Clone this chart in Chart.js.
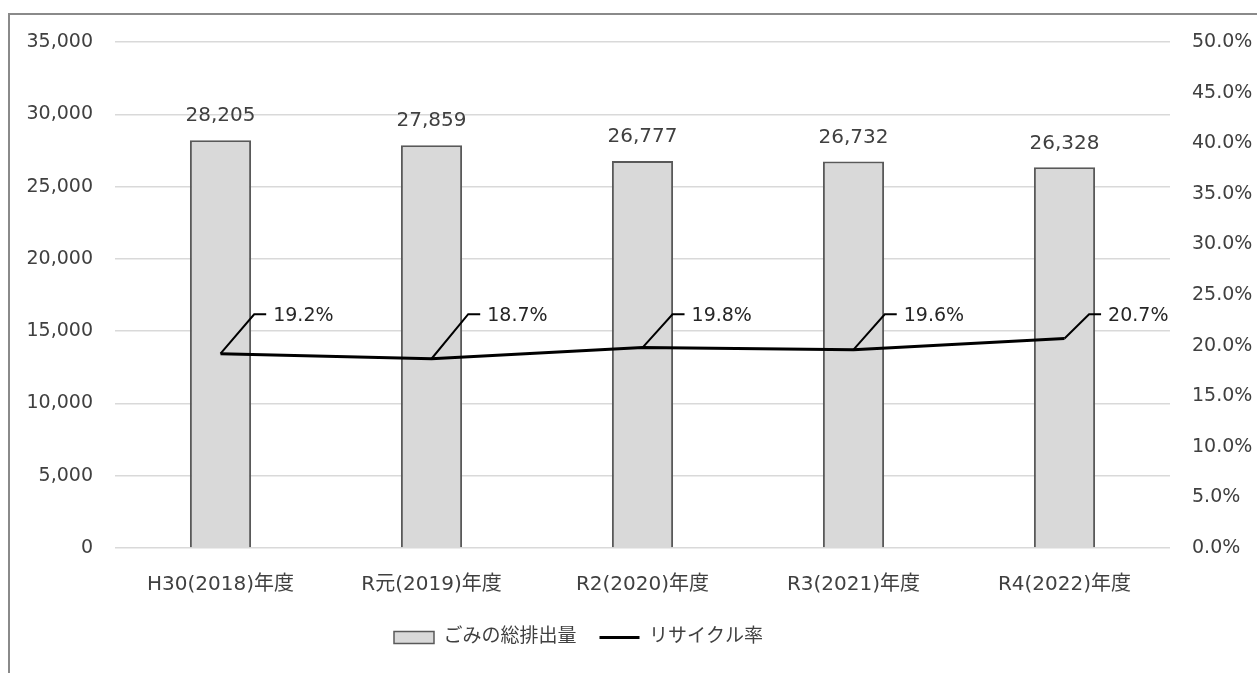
<!DOCTYPE html>
<html>
<head>
<meta charset="utf-8">
<script src="https://cdn.jsdelivr.net/npm/chart.js@4.4.0/dist/chart.umd.min.js"></script>
<style>
    body { margin: 0; background: #fff; overflow: hidden; }
    #frame { position: absolute; left: 8px; top: 13px; width: 1400px; height: 800px;
             border-top: 2px solid #8a8a8a; border-left: 2px solid #8a8a8a; }
    #chart { position: absolute; left: 0; top: 0; }
</style>
</head>
<body>
<div id="frame"></div>
<canvas id="chart" width="1257" height="673"></canvas>
<script>
const years = ["H30(2018)年度", "R元(2019)年度", "R2(2020)年度", "R3(2021)年度", "R4(2022)年度"];
const totalWaste = [28205, 27859, 26777, 26732, 26328];
const recycleRate = [19.2, 18.7, 19.8, 19.6, 20.7];
const seriesNames = ["ごみの総排出量", "リサイクル率"];
// callout labels for the rate sit on one common level (in % units)
const rateLabelLevel = 23.1;

const fontFamily = "'DejaVu Sans', 'Noto Sans CJK JP', sans-serif";
Chart.defaults.font.family = fontFamily;
Chart.defaults.font.size = 19;
Chart.defaults.color = "#404040";

const valueLabels = {
    id: "valueLabels",
    afterLayout(chart) {
        // the legend in the original sits a little left of centre
        chart.legend.left -= 50;
        chart.legend.right -= 50;
    },
    afterDatasetsDraw(chart) {
        const ctx = chart.ctx;
        ctx.save();

        // bar values
        const bars = chart.getDatasetMeta(0).data;
        ctx.font = "20px " + fontFamily;
        ctx.fillStyle = "#404040";
        ctx.textAlign = "center";
        ctx.textBaseline = "middle";
        bars.forEach((bar, i) => {
            ctx.fillText(totalWaste[i].toLocaleString("en-US"), bar.x, bar.y - 24);
        });

        // rate callouts with leader lines
        const pts = chart.getDatasetMeta(1).data;
        const levelY = chart.scales.y1.getPixelForValue(rateLabelLevel);
        ctx.font = "19px " + fontFamily;
        ctx.fillStyle = "#262626";
        ctx.textAlign = "left";
        ctx.strokeStyle = "#000";
        ctx.lineWidth = 2;
        pts.forEach((p, i) => {
            const dy = p.y - levelY;
            const dx = dy * 0.6 + 10;
            ctx.beginPath();
            ctx.moveTo(p.x, p.y);
            ctx.lineTo(p.x + dx, levelY);
            ctx.lineTo(p.x + dx + 12, levelY);
            ctx.stroke();
            ctx.fillText(recycleRate[i].toFixed(1) + "%", p.x + dx + 19, levelY + 2);
        });
        ctx.restore();
    }
};

const chart = new Chart(document.getElementById("chart"), {
    type: "bar",
    data: {
        labels: years,
        datasets: [
            {
                label: seriesNames[0],
                data: totalWaste,
                yAxisID: "y",
                backgroundColor: "#d9d9d9",
                borderColor: "#595959",
                borderWidth: 2,
                categoryPercentage: 1,
                barPercentage: 0.29,
                order: 2
            },
            {
                type: "line",
                label: seriesNames[1],
                data: recycleRate,
                yAxisID: "y1",
                borderColor: "#000",
                borderWidth: 3,
                pointRadius: 0,
                tension: 0,
                order: 1
            }
        ]
    },
    options: {
        responsive: false,
        animation: false,
        layout: { padding: { top: 42, bottom: 16, left: 0, right: 0 } },
        plugins: {
            tooltip: { enabled: false },
            legend: {
                position: "bottom",
                labels: {
                    usePointStyle: true,
                    pointStyleWidth: 40,
                    boxHeight: 12,
                    padding: 23,
                    color: "#404040",
                    font: { size: 19 },
                    sort: (a, b) => a.datasetIndex - b.datasetIndex,
                    generateLabels(chart) {
                        const items = Chart.defaults.plugins.legend.labels.generateLabels(chart);
                        items.forEach(it => {
                            if (it.datasetIndex === 0) {
                                it.pointStyle = "rect";
                                it.fillStyle = "#d9d9d9";
                                it.strokeStyle = "#595959";
                                it.lineWidth = 1.5;
                            } else {
                                it.pointStyle = "line";
                                it.strokeStyle = "#000";
                                it.lineWidth = 3;
                            }
                        });
                        return items;
                    }
                }
            }
        },
        scales: {
            x: {
                grid: { display: false },
                border: { display: false },
                ticks: { padding: 17, font: { size: 20 } },
                afterFit(s) { s.height = 57; }
            },
            y: {
                position: "left",
                min: 0,
                max: 35000,
                ticks: {
                    stepSize: 5000,
                    padding: 22,
                    callback: v => v.toLocaleString("en-US")
                },
                grid: { color: "#d9d9d9", lineWidth: 1.5, drawTicks: false },
                border: { display: false },
                afterFit(s) { s.width = 115; }
            },
            y1: {
                position: "right",
                min: 0,
                max: 50,
                ticks: {
                    stepSize: 5,
                    padding: 22,
                    callback: v => v.toFixed(1) + "%"
                },
                grid: { display: false, drawTicks: false },
                border: { display: false },
                afterFit(s) { s.width = 87; }
            }
        }
    },
    plugins: [valueLabels]
});
</script>
</body>
</html>
